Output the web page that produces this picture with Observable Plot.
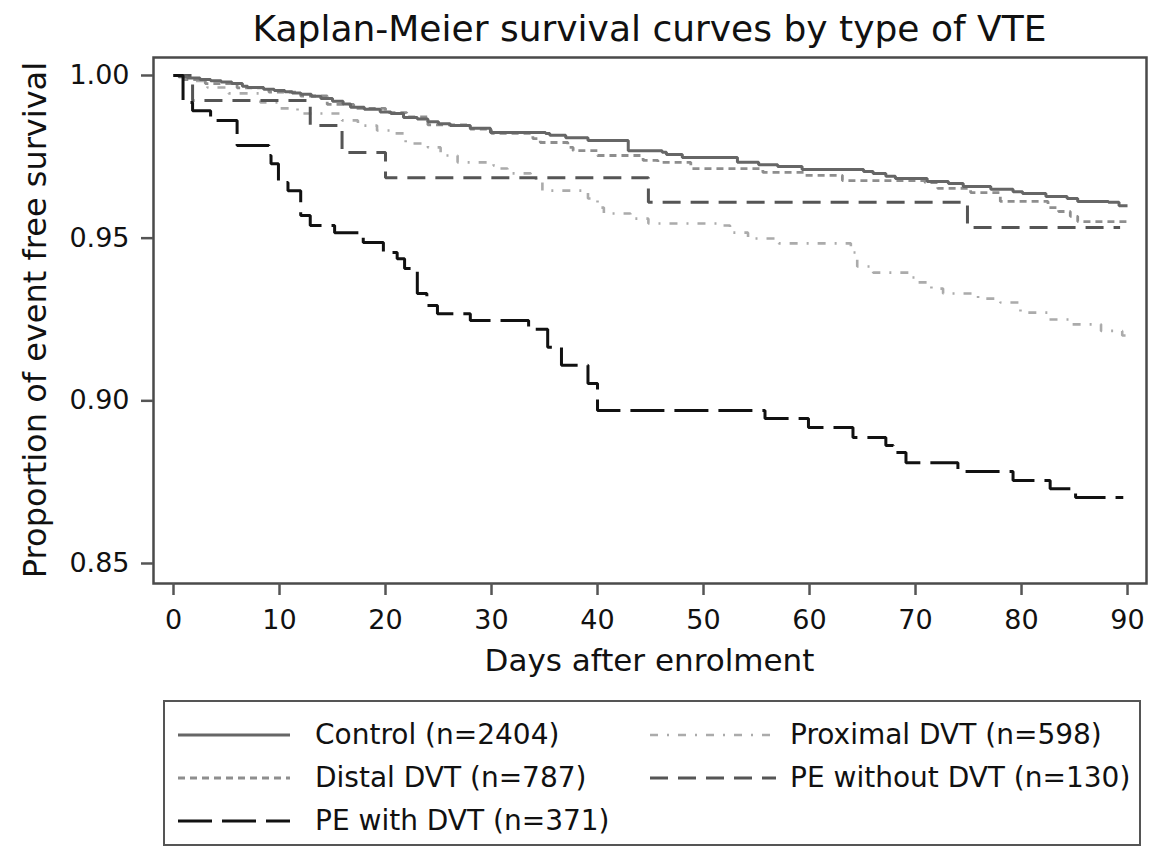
<!DOCTYPE html>
<html>
<head>
<meta charset="utf-8">
<script src="https://cdn.jsdelivr.net/npm/d3@7"></script>
<script src="https://cdn.jsdelivr.net/npm/@observablehq/plot@0.6"></script>
<style>
  html, body { margin: 0; padding: 0; background: #fff; }
  body { width: 1161px; height: 850px; position: relative; overflow: hidden; font-family: "DejaVu Sans", sans-serif; color: #111; }
  #title { position: absolute; left: 153px; width: 993px; top: 9px; text-align: center; font-size: 36px; line-height: 40px; white-space: nowrap; }
  #chart { position: absolute; left: 0; top: 50px; }
  #ylabel { position: absolute; left: -265px; width: 600px; top: 302px; line-height: 36px; text-align: center; font-size: 32px; transform: rotate(-90deg); white-space: nowrap; }
  #xlabel { position: absolute; left: 153px; width: 993px; top: 642px; text-align: center; font-size: 31px; line-height: 36px; white-space: nowrap; }
  #legend { position: absolute; left: 163px; top: 700px; width: 978px; height: 146px; border: 2px solid #555; box-sizing: border-box; }
  .item { position: absolute; font-size: 28px; line-height: 32px; white-space: nowrap; display: flex; align-items: center; }
</style>
</head>
<body>
<div id="title">Kaplan-Meier survival curves by type of VTE</div>
<div id="chart"></div>
<div id="ylabel">Proportion of event free survival</div>
<div id="xlabel">Days after enrolment</div>
<div id="legend"></div>
<script>
// ---- Data ----
const categories = ["Control (n=2404)", "Distal DVT (n=787)", "PE with DVT (n=371)", "Proximal DVT (n=598)", "PE without DVT (n=130)"];

const controlDays = [0, 0.5, 1.3, 2.5, 3.5, 4.5, 5.5, 6.5, 7.0, 8.5, 9.5, 10.5, 11.2, 12.0, 13.0, 13.9, 15.0, 16.0, 16.7, 18.0, 19.5, 20.5, 21.7, 23.0, 24.0, 25.0, 26.1, 28.0, 29.9, 35.1, 35.5, 37.0, 39.1, 42.9, 46.1, 46.5, 48.0, 53.2, 55.2, 57.0, 59.3, 65.1, 66.0, 67.2, 68.1, 71.1, 73.1, 74.5, 77.1, 79.2, 80.1, 82.3, 84.3, 85.3, 88.2, 89.2, 90];
const controlSurv = [1.0, 0.9996, 0.9992, 0.9988, 0.9984, 0.998, 0.9975, 0.9967, 0.9963, 0.9958, 0.9954, 0.9950, 0.9946, 0.9942, 0.9936, 0.9929, 0.9921, 0.9912, 0.9902, 0.9896, 0.9888, 0.9883, 0.9871, 0.9866, 0.9858, 0.9852, 0.9846, 0.9838, 0.9825, 0.9822, 0.9816, 0.9809, 0.9800, 0.9769, 0.9764, 0.9757, 0.9748, 0.9733, 0.9726, 0.9720, 0.9711, 0.9705, 0.9699, 0.9690, 0.9683, 0.9674, 0.9668, 0.9659, 0.9650, 0.9643, 0.9637, 0.9628, 0.9622, 0.9613, 0.9610, 0.9600, 0.9600];

const distalDays = [0, 1.0, 3.0, 6.0, 9.0, 12.0, 14.5, 17.0, 20.0, 22.0, 24.0, 28.0, 30.0, 33.9, 34.6, 37.2, 37.7, 40.0, 44.3, 45.7, 48.8, 55.6, 59.6, 63.1, 70.9, 72.1, 75.2, 78.0, 82.5, 83.5, 84.6, 85.3, 90];
const distalSurv = [1.0, 0.9987, 0.9975, 0.9962, 0.9949, 0.9937, 0.9911, 0.9899, 0.9886, 0.9873, 0.9848, 0.9835, 0.9822, 0.9806, 0.9794, 0.9779, 0.9769, 0.9754, 0.9739, 0.9733, 0.9714, 0.9702, 0.9693, 0.9677, 0.9671, 0.9653, 0.9640, 0.9613, 0.9594, 0.9582, 0.9567, 0.9551, 0.9551];

const peDvtDays = [0, 0.9, 1.8, 3.5, 6.0, 9.0, 9.2, 9.9, 10.8, 12.0, 12.9, 15.2, 17.9, 19.8, 21.1, 21.8, 23.0, 23.9, 24.9, 28.0, 33.5, 35.3, 36.6, 39.1, 40.0, 55.8, 59.9, 64.1, 67.2, 67.9, 69.1, 74.0, 79.2, 82.7, 85.1, 89.6];
const peDvtSurv = [1.0, 0.9917, 0.9892, 0.9862, 0.9785, 0.9754, 0.9729, 0.9671, 0.9646, 0.9570, 0.9539, 0.9517, 0.9487, 0.9456, 0.9437, 0.9407, 0.9330, 0.9293, 0.9268, 0.9247, 0.9220, 0.9165, 0.9109, 0.9053, 0.8970, 0.8946, 0.8918, 0.8887, 0.8863, 0.8841, 0.8810, 0.8783, 0.8755, 0.8730, 0.8703, 0.8703];

const proximalDays = [0, 1.5, 3.2, 5.2, 8.2, 10.1, 11.7, 15.9, 17.4, 19.2, 20.9, 21.9, 24.0, 25.2, 26.8, 30.2, 30.8, 31.5, 33.7, 34.2, 34.8, 39.1, 40.0, 40.6, 43.1, 44.8, 51.8, 52.5, 54.2, 57.1, 63.9, 64.5, 66.0, 69.5, 70.0, 71.5, 72.6, 75.9, 78.0, 79.9, 82.5, 84.5, 87.5, 89.5, 90];
const proximalSurv = [1.0, 0.9983, 0.9963, 0.9945, 0.9917, 0.9899, 0.9883, 0.9862, 0.9846, 0.9831, 0.9822, 0.9791, 0.9779, 0.9754, 0.9733, 0.9723, 0.9714, 0.9699, 0.9686, 0.9677, 0.9646, 0.9622, 0.9594, 0.9576, 0.9560, 0.9545, 0.9539, 0.9517, 0.9499, 0.9484, 0.9456, 0.9413, 0.9394, 0.9379, 0.9364, 0.9345, 0.9330, 0.9314, 0.9302, 0.9271, 0.9250, 0.9235, 0.9215, 0.9201, 0.9201];

const peNoDvtDays = [0, 1.8, 12.9, 15.9, 20.0, 44.8, 74.9, 89.3];
const peNoDvtSurv = [1.0, 0.9923, 0.9846, 0.9763, 0.9686, 0.9610, 0.9533, 0.9533];

const xTicks = [0, 10, 20, 30, 40, 50, 60, 70, 80, 90];
const yTicks = [0.85, 0.90, 0.95, 1.00];

// ---- Styles ----
const styles = {
  "Control (n=2404)":      {stroke: "#666666", strokeWidth: 3, dash: null},
  "Distal DVT (n=787)":    {stroke: "#8e8e8e", strokeWidth: 2.8, dash: "7,5"},
  "PE with DVT (n=371)":   {stroke: "#111111", strokeWidth: 3, dash: "34,10"},
  "Proximal DVT (n=598)":  {stroke: "#ababab", strokeWidth: 2.6, dash: "8,9,2,9"},
  "PE without DVT (n=130)":{stroke: "#555555", strokeWidth: 3, dash: "18,10"}
};

const seriesData = {
  "Control (n=2404)": [controlDays, controlSurv],
  "Distal DVT (n=787)": [distalDays, distalSurv],
  "PE with DVT (n=371)": [peDvtDays, peDvtSurv],
  "Proximal DVT (n=598)": [proximalDays, proximalSurv],
  "PE without DVT (n=130)": [peNoDvtDays, peNoDvtSurv]
};

const drawOrder = ["Proximal DVT (n=598)", "Distal DVT (n=787)", "PE without DVT (n=130)", "Control (n=2404)", "PE with DVT (n=371)"];

const lineMarks = drawOrder.map(name => {
  const [ds, ss] = seriesData[name];
  const rows = ds.map((d, i) => ({day: d, surv: ss[i], group: name}));
  const st = styles[name];
  return Plot.line(rows, {
    x: "day", y: "surv", curve: "step-after",
    stroke: st.stroke, strokeWidth: st.strokeWidth,
    strokeDasharray: st.dash || undefined,
    strokeLinecap: "butt", strokeLinejoin: "miter"
  });
});

const chart = Plot.plot({
  width: 1161,
  height: 640,
  marginLeft: 153,
  marginRight: 15,
  marginTop: 7,
  marginBottom: 107,
  style: {fontFamily: "DejaVu Sans, sans-serif", fontSize: "26px", color: "#111", background: "#fff"},
  x: {domain: [-1.887, 91.79], ticks: xTicks},
  y: {domain: [0.84385, 1.00553], ticks: yTicks},
  marks: [
    ...lineMarks,
    Plot.frame({stroke: "#4a4a4a", strokeWidth: 2.5}),
    Plot.axisX(xTicks, {tickSize: 12, tickPadding: 14, stroke: "#555", strokeWidth: 2.5, fontSize: 27, fill: "#111", label: null}),
    Plot.axisY(yTicks, {tickSize: 12, tickPadding: 12, stroke: "#555", strokeWidth: 2.5, fontSize: 27, fill: "#111", tickFormat: d3.format(".2f"), label: null})
  ]
});
document.getElementById("chart").appendChild(chart);

// ---- Legend ----
const legendPos = [
  {name: "Control (n=2404)", left: 13, top: 17, sw: 112, gap: 25},
  {name: "Proximal DVT (n=598)", left: 485, top: 17, sw: 126, gap: 14},
  {name: "Distal DVT (n=787)", left: 13, top: 60, sw: 112, gap: 25},
  {name: "PE without DVT (n=130)", left: 485, top: 60, sw: 126, gap: 14},
  {name: "PE with DVT (n=371)", left: 13, top: 103, sw: 112, gap: 25}
];
const legend = document.getElementById("legend");
for (const p of legendPos) {
  const st = styles[p.name];
  const div = document.createElement("div");
  div.className = "item";
  div.style.left = p.left + "px";
  div.style.top = p.top + "px";
  div.innerHTML = `<svg width="${p.sw}" height="10" style="margin-right:${p.gap}px"><line x1="0" x2="${p.sw}" y1="5" y2="5" stroke="${st.stroke}" stroke-width="${st.strokeWidth}" ${st.dash ? `stroke-dasharray="${st.dash}"` : ""}/></svg><span>${p.name}</span>`;
  legend.appendChild(div);
}
</script>
</body>
</html>
